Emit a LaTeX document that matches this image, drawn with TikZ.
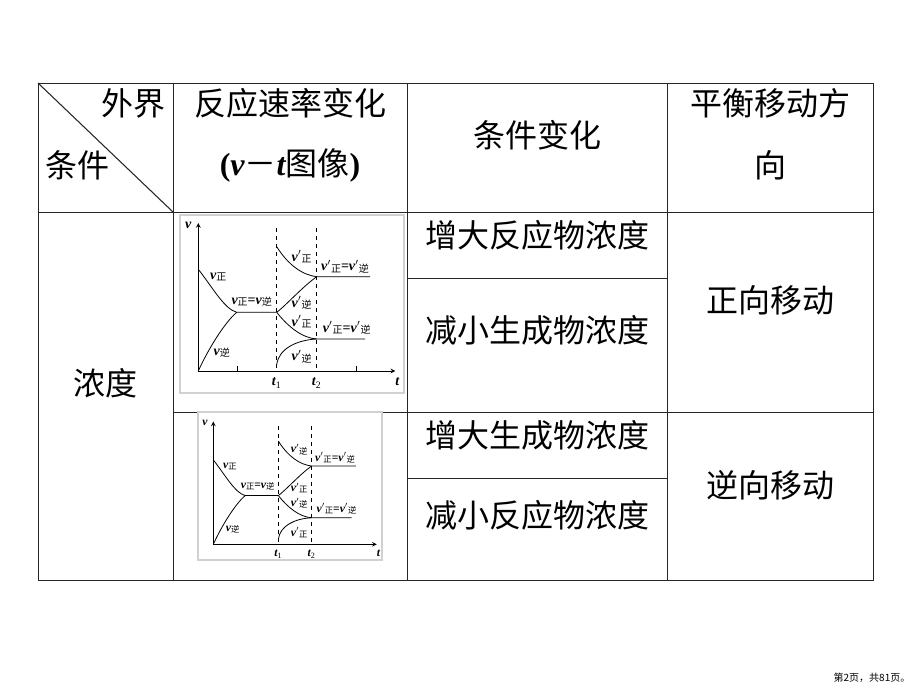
\documentclass[tikz,border=0pt]{standalone}
\usepackage{fontspec}
\setmainfont{Liberation Serif}
\newfontfamily\cjk{Noto Sans CJK SC}
\newfontfamily\latn{Liberation Serif}

\newcommand\vel{{\latn\bfseries\itshape v}}
\newcommand\lowtxt[1]{\raisebox{-0.2ex}{\cjk\fontsize{7.5}{7.5}\selectfont #1}}
\newcommand\vtplot[2]{%
	% axes and time marks
	\draw[-stealth] (0,0) -- (0,-148) coordinate (vtop);
	\draw[-stealth] (0,0) -- (197,0) coordinate (tend);
	\node[lbl] (vlab) at (-10,-146) {\vel};
	\node[lbl] (tlab) at (199,11) {{\latn\bfseries\itshape t}};
	\draw[dashed] (\tA,-143) -- (\tA,0);
	\draw[dashed] (\tB,-143) -- (\tB,0);
	\node[lbl] (t1lab) at (\tA,12) {{\latn\bfseries\itshape t}\textsubscript{1}};
	\node[lbl] (t2lab) at (\tB,12) {{\latn\bfseries\itshape t}\textsubscript{2}};
	% first equilibrium
	\draw (0,-101.7) .. controls (14,-84) and (26,-62) .. (38.4,-58.7) -- (\tA,-58.7);
	\draw (0,0) .. controls (10,-22) and (26,-48) .. (38.4,-58.7);
	% new equilibria after t1
	\draw (\tA,-124.3) .. controls (90,-106) and (104,-96) .. (\tB,-94.3) -- (171.7,-94.3);
	\draw (\tA,-58.7) .. controls (88,-66) and (104,-84) .. (\tB,-94.3);
	\draw (\tA,-58.7) .. controls (90,-44) and (104,-33) .. (\tB,-32) -- (166.7,-32);
	\draw (\tA,-6) .. controls (80,-22) and (98,-31) .. (\tB,-32);
	% labels
	\node[lbl] (la) at (20,-94.3) {\vel\lowtxt{正}};
	\node[lbl] (lb) at (53.4,-69.3) {\vel\lowtxt{正}\textbf{=}\vel\lowtxt{逆}};
	\node[lbl] (lc) at (23.4,-18) {\vel\lowtxt{逆}};
	\node[lbl] (ld) at (103.4,-114.3) {\vel$'$\lowtxt{#1}};
	\node[lbl] (le) at (146.7,-104.3) {\vel$'$\lowtxt{正}\textbf{=}\vel$'$\lowtxt{逆}};
	\node[lbl] (lf) at (103.4,-68) {\vel$'$\lowtxt{#2}};
	\node[lbl] (lg) at (103.4,-49.3) {\vel$'$\lowtxt{#1}};
	\node[lbl] (lh) at (148.4,-43) {\vel$'$\lowtxt{正}\textbf{=}\vel$'$\lowtxt{逆}};
	\node[lbl] (li) at (103.4,-14.3) {\vel$'$\lowtxt{#2}};
}

\begin{document}
\begin{tikzpicture}[x=0.75pt, y=-0.75pt,
	rule/.style={line width=1pt, draw=black!85},
	cell/.style={font=\cjk\fontsize{24}{24}\selectfont, inner sep=0pt},
	lbl/.style={font=\latn\fontsize{10.5}{10.5}\selectfont, inner sep=0pt},
	plotbox/.style={draw=black!18, line width=1pt, fill=white},
	every path/.append style={line width=0.6pt}]
	\useasboundingbox (0,0) rectangle (920,690);

	\def\tA{78.4};
	\def\tB{118.4};

	% table rules
	\begin{scope}[rule]
		\draw (38,83) rectangle (873,580);
		\draw (173,83) -- (173,580);
		\draw (407,83) -- (407,580);
		\draw (667,83) -- (667,580);
		\draw (38,212) -- (873,212);
		\draw (173,412) -- (873,412);
		\draw (407,278) -- (667,278);
		\draw (407,478) -- (667,478);
		\draw[line width=0.8pt] (38,83) -- (173,212);
	\end{scope}

	% header
	\node[cell, anchor=east] (outer) at (166,103) {外界};
	\node[cell, anchor=west] (cond) at (45,165) {条件};
	\node[cell] (rate) at (290,103) {反应速率变化};
	\node[cell] (rateb) at (290,165) {{\latn\bfseries(\itshape v}－{\latn\bfseries\itshape t}图像{\latn\bfseries)}};
	\node[cell] (change) at (537,135) {条件变化};
	\node[cell] (shift) at (770,103) {平衡移动方};
	\node[cell] (shiftb) at (770,165) {向};

	% body
	\node[cell] (conc) at (105,383) {浓度};
	\node[cell] (c1) at (537,235) {增大反应物浓度};
	\node[cell] (c2) at (537,330) {减小生成物浓度};
	\node[cell] (c3) at (537,435) {增大生成物浓度};
	\node[cell] (c4) at (537,515) {减小反应物浓度};
	\node[cell] (fwd) at (770,300) {正向移动};
	\node[cell] (bwd) at (770,485) {逆向移动};

	% v-t plots
	\draw[plotbox] (180,215) rectangle (404,393);
	\begin{scope}[shift={(198.3,371)}]
		\vtplot{正}{逆}
		\draw (39.4,0) -- (39.4,-5);
		\draw (157.7,0) -- (157.7,-5);
	\end{scope}

	\draw[plotbox] (198,412) rectangle (382,560);
	\begin{scope}[shift={(213.3,544.3)}, scale=0.83, transform shape]
		\vtplot{逆}{正}
	\end{scope}

	\node[font=\cjk\fontsize{7.5}{7.5}\selectfont] (page) at (872,678) {第2页，共81页。};
\end{tikzpicture}
\end{document}
